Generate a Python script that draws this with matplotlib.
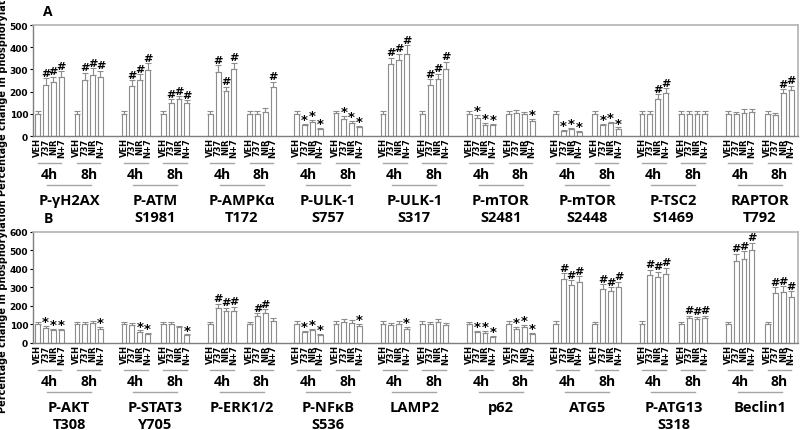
import matplotlib.pyplot as plt
import numpy as np
from matplotlib.lines import Line2D

plt.rcParams['font.family'] = ['Open Sans', 'DejaVu Sans']
plt.rcParams['font.weight'] = 'bold'

groups = ['VEH', '737', 'NIR', 'N+7']
times = ['4h', '8h']

# Panel A
names_a = ['P-\u03b3H2AX', 'P-ATM', 'P-AMPK\u03b1', 'P-ULK-1', 'P-ULK-1',
           'P-mTOR', 'P-mTOR', 'P-TSC2', 'RAPTOR']
sites_a = ['', 'S1981', 'T172', 'S757', 'S317', 'S2481', 'S2448', 'S1469', 'T792']
heights_a = [
    [100, 230, 243, 266, 100, 254, 276, 267],
    [100, 227, 254, 297, 100, 150, 165, 147],
    [100, 288, 203, 300, 100, 100, 110, 220],
    [100, 48, 63, 33, 102, 78, 57, 40],
    [100, 323, 341, 368, 100, 231, 255, 300],
    [100, 83, 51, 48, 100, 105, 98, 68],
    [100, 23, 30, 20, 100, 48, 57, 33],
    [100, 100, 168, 195, 100, 100, 100, 100],
    [100, 98, 105, 108, 100, 95, 193, 207],
]
errs_a = [
    [12, 30, 25, 25, 12, 30, 30, 28],
    [12, 25, 25, 30, 12, 15, 15, 15],
    [12, 30, 20, 30, 15, 12, 15, 25],
    [15, 8, 10, 5, 12, 12, 10, 6],
    [15, 30, 30, 40, 15, 25, 25, 35],
    [12, 12, 8, 8, 12, 12, 10, 10],
    [15, 6, 6, 4, 12, 6, 8, 6],
    [15, 15, 20, 20, 12, 12, 12, 12],
    [15, 12, 15, 15, 12, 10, 18, 20],
]
marks_a = [
    ['', '#', '#', '#', '', '#', '#', '#'],
    ['', '#', '#', '#', '', '#', '#', '#'],
    ['', '#', '#', '#', '', '', '', '#'],
    ['', '*', '*', '*', '', '*', '*', '*'],
    ['', '#', '#', '#', '', '#', '#', '#'],
    ['', '*', '*', '*', '', '', '', '*'],
    ['', '*', '*', '*', '', '*', '*', '*'],
    ['', '', '#', '#', '', '', '', ''],
    ['', '', '', '', '', '', '#', '#'],
]

# Panel B
names_b = ['P-AKT', 'P-STAT3', 'P-ERK1/2', 'P-NF\u03baB', 'LAMP2', 'p62',
           'ATG5', 'P-ATG13', 'Beclin1']
sites_b = ['T308', 'Y705', '', 'S536', '', '', '', 'S318', '']
heights_b = [
    [100, 81, 68, 70, 100, 101, 108, 76],
    [100, 95, 60, 47, 100, 100, 86, 41],
    [100, 189, 171, 175, 100, 146, 164, 119],
    [104, 59, 68, 43, 104, 112, 108, 90],
    [104, 95, 104, 76, 104, 101, 112, 95],
    [104, 58, 56, 34, 104, 77, 85, 47],
    [103, 346, 315, 331, 103, 292, 279, 304],
    [103, 367, 355, 373, 103, 135, 130, 135],
    [103, 441, 456, 501, 103, 270, 276, 249],
]
errs_b = [
    [15, 12, 8, 8, 15, 15, 12, 10],
    [15, 12, 8, 6, 15, 12, 8, 6],
    [15, 22, 18, 22, 12, 15, 18, 15],
    [15, 8, 8, 8, 15, 15, 15, 12],
    [15, 12, 15, 10, 15, 15, 15, 12],
    [12, 8, 8, 6, 15, 10, 12, 8],
    [15, 30, 25, 30, 12, 25, 22, 28],
    [15, 30, 30, 35, 12, 12, 12, 12],
    [12, 40, 40, 40, 12, 30, 30, 30],
]
marks_b = [
    ['', '*', '*', '*', '', '', '', '*'],
    ['', '', '*', '*', '', '', '', '*'],
    ['', '#', '#', '#', '', '#', '#', ''],
    ['', '*', '*', '*', '', '', '', '*'],
    ['', '', '', '*', '', '', '', ''],
    ['', '*', '*', '*', '', '*', '*', '*'],
    ['', '#', '#', '#', '', '#', '#', '#'],
    ['', '#', '#', '#', '', '#', '#', '#'],
    ['', '#', '#', '#', '', '#', '#', '#'],
]

edge = '#8c8c8c'
line_gray = '#a6a6a6'

fig = plt.figure(figsize=(8, 4.31), dpi=100)
ax_a = fig.add_axes([0.04125, 0.682, 0.956, 0.2575])
ax_b = fig.add_axes([0.04125, 0.2019, 0.956, 0.2575])


def draw_panel(ax, names, sites, heights, errs, marks, ymax, letter, label_y):
    xs, hs, es, ms, labels = [], [], [], [], []
    for p in range(len(names)):
        for t in range(2):
            for b in range(4):
                xs.append(p * 11 + t * 5 + b)
                hs.append(heights[p][t * 4 + b])
                es.append(errs[p][t * 4 + b])
                ms.append(marks[p][t * 4 + b])
                labels.append(groups[b])
    xs = np.array(xs)
    hs = np.array(hs)
    es = np.array(es)
    ax.bar(xs, hs, width=0.62, color='white', edgecolor=edge, linewidth=0.8,
           yerr=[np.zeros_like(es), es], ecolor=edge,
           error_kw=dict(capsize=2, elinewidth=0.8, capthick=0.8))
    for x, h, e, m in zip(xs, hs, es, ms):
        if m == '#':
            ax.text(x, h + e + ymax * 0.005, m, ha='center', va='bottom',
                    fontsize=8, fontweight='bold', family='DejaVu Sans')
        elif m == '*':
            ax.text(x, h + e - ymax * 0.02, m, ha='center', va='bottom',
                    fontsize=9.5, fontweight='bold', family='DejaVu Sans')

    ax.set_xlim(-0.6, 96.85)
    ax.set_ylim(0, ymax)
    ax.set_yticks(np.arange(0, ymax + 1, 100))
    ax.tick_params(axis='y', labelsize=6.5, length=2, pad=1.5, width=0.8)
    for lab in ax.get_yticklabels():
        lab.set_fontweight('bold')
        lab.set_family('DejaVu Sans')
    ax.set_xticks(xs)
    ax.set_xticklabels(labels, rotation=90, fontsize=6, fontweight='bold',
                       family='DejaVu Sans')
    ax.tick_params(axis='x', length=0, pad=1)
    for s in ['left', 'bottom']:
        ax.spines[s].set_color('#7f7f7f')
        ax.spines[s].set_linewidth(1)
    for s in ['top', 'right']:
        ax.spines[s].set_color('#b3b3b3')
        ax.spines[s].set_linewidth(1.2)
    ax.set_ylabel('Percentage change in phosphorylation', fontsize=7,
                  fontweight='bold', family='DejaVu Sans')
    ax.yaxis.set_label_coords(-0.0325, label_y)

    tr = ax.get_xaxis_transform()
    for p in range(len(names)):
        for t in range(2):
            x0 = p * 11 + t * 5
            ax.add_line(Line2D([x0, x0 + 3], [-0.24, -0.24], transform=tr,
                               color=line_gray, lw=1, clip_on=False))
            ax.text(x0 + 1.5, -0.345, times[t], transform=tr, ha='center',
                    va='center', fontsize=10, fontweight='bold')
        ax.add_line(Line2D([p * 11 + 1.2, p * 11 + 6.8], [-0.445, -0.445],
                           transform=tr, color=line_gray, lw=1, clip_on=False))
        ax.text(p * 11 + 4, -0.575, names[p], transform=tr, ha='center',
                va='center', fontsize=10.5, fontweight='bold')
        if sites[p]:
            ax.text(p * 11 + 4, -0.73, sites[p], transform=tr, ha='center',
                    va='center', fontsize=10.5, fontweight='bold')
    ax.text(0.02, 1.13, letter, transform=ax.transAxes, ha='center',
            va='center', fontsize=10, fontweight='bold')


draw_panel(ax_a, names_a, sites_a, heights_a, errs_a, marks_a, 500, 'A', 0.43)
draw_panel(ax_b, names_b, sites_b, heights_b, errs_b, marks_b, 600, 'B', 0.34)

fig.savefig('out.png', dpi=100)
